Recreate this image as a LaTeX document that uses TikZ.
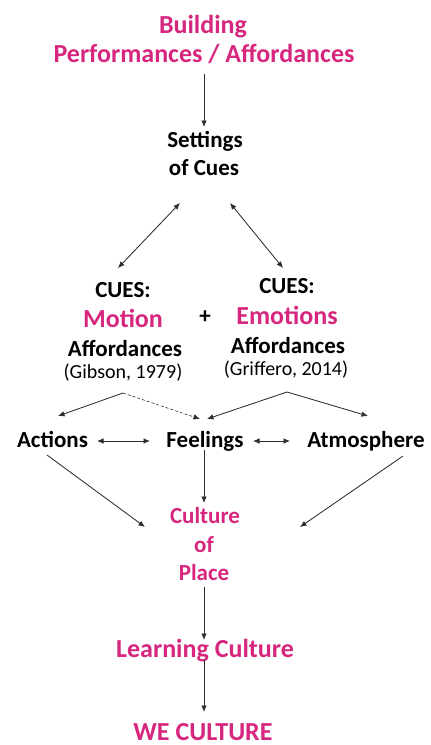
\documentclass[tikz,border=0pt]{standalone}
\usepackage{fontspec}
\setmainfont{Carlito}
\usetikzlibrary{arrows.meta}
\definecolor{pinkc}{RGB}{214,38,126}
\definecolor{linec}{RGB}{45,45,45}
\tikzset{
  x=1pt, y=-1pt,
  txt/.style={anchor=base, inner sep=0pt, font=\bfseries\fontsize{23}{27}\selectfont, text=black},
  pinktxt/.style={txt, text=pinkc},
  bigpink/.style={txt, text=pinkc, font=\bfseries\fontsize{26}{30}\selectfont},
  reftxt/.style={anchor=base, inner sep=0pt, font=\fontsize{20}{24}\selectfont, text=black},
  conn/.style={draw=linec, line width=0.85pt, -{Latex[length=6.5pt,width=5.5pt]}},
  conn2/.style={conn, {Latex[length=6.5pt,width=5.5pt]}-{Latex[length=6.5pt,width=5.5pt]}},
}
\begin{document}
\begin{tikzpicture}
\useasboundingbox (0,0) rectangle (431,745);
% texts
\node[bigpink] (b1) at (203,33) {Building};
\node[bigpink] (b2) at (204,62) {Performances / Affordances};
\node[txt] (s1) at (205,147) {Settings};
\node[txt] (s2) at (204,175) {of Cues};
\node[txt] (lc1) at (123,297) {CUES:};
\node[bigpink] (lc2) at (123,327) {Motion};
\node[txt] (lc3) at (125,356) {Affordances};
\node[reftxt] (lc4) at (123,378) {(Gibson, 1979)};
\node[txt] (plus) at (205,323) {+};
\node[txt] (rc1) at (287,293) {CUES:};
\node[bigpink] (rc2) at (287,324) {Emotions};
\node[txt] (rc3) at (288,353) {Affordances};
\node[reftxt] (rc4) at (286,375) {(Griffero, 2014)};
\node[txt] (act) at (52.5,447) {Actions};
\node[txt] (feel) at (205,447) {Feelings};
\node[txt] (atm) at (366,447) {Atmosphere};
\node[pinktxt] (cp1) at (205,523) {Culture};
\node[pinktxt] (cp2) at (204,552) {of};
\node[pinktxt] (cp3) at (204,580) {Place};
\node[bigpink] (lcu) at (205,657) {Learning Culture};
\node[bigpink] (we) at (203,740) {WE CULTURE};
% connector end points
\coordinate (t1) at (204,74);
\coordinate (t2) at (204,127);
\coordinate (sl) at (180,203);
\coordinate (cl) at (118,268);
\coordinate (sr) at (230,203);
\coordinate (cr) at (283,268);
\coordinate (gib) at (123,393);
\coordinate (gri) at (287,392);
\coordinate (actT) at (58,416);
\coordinate (feelL) at (200,419);
\coordinate (feelR) at (207,419);
\coordinate (atmT) at (368,416);
\coordinate (af1) at (97,441);
\coordinate (af2) at (150,441);
\coordinate (fa1) at (253,441);
\coordinate (fa2) at (290,441);
\coordinate (actS) at (47,455);
\coordinate (actE) at (145,527);
\coordinate (feelS) at (204,450);
\coordinate (feelE) at (204,503);
\coordinate (atmS) at (403,456);
\coordinate (atmE) at (300,527);
\coordinate (plS) at (204,587);
\coordinate (plE) at (204,640);
\coordinate (lcS) at (204,660);
\coordinate (lcE) at (204,712);
% connectors
\draw[conn] (t1) -- (t2);
\draw[conn2] (sl) -- (cl);
\draw[conn2] (sr) -- (cr);
\draw[conn] (gib) -- (actT);
\draw[conn, densely dashed, line width=0.6pt] (gib) -- (feelL);
\draw[conn] (gri) -- (feelR);
\draw[conn] (gri) -- (atmT);
\draw[conn2] (af1) -- (af2);
\draw[conn2] (fa1) -- (fa2);
\draw[conn] (actS) -- (actE);
\draw[conn] (feelS) -- (feelE);
\draw[conn] (atmS) -- (atmE);
\draw[conn] (plS) -- (plE);
\draw[conn] (lcS) -- (lcE);
\end{tikzpicture}
\end{document}
